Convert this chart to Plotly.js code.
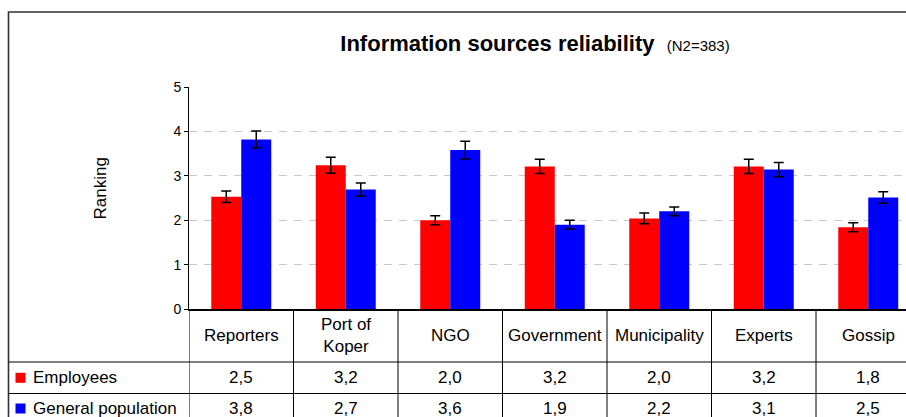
<!DOCTYPE html>
<html>
<head>
<meta charset="utf-8">
<script src="https://cdn.plot.ly/plotly-3.0.1.min.js"></script>
<style>
  html, body { margin: 0; padding: 0; background: #fff; }
  #chart { width: 906px; height: 417px; }
</style>
</head>
<body>
<div id="chart"></div>
<script>
// categories and values
const categories = ['Reporters', 'Port of<br>Koper', 'NGO', 'Government', 'Municipality', 'Experts', 'Gossip'];
const employees = [2.53, 3.24, 2.00, 3.21, 2.04, 3.21, 1.84];
const employeesErr = [0.13, 0.18, 0.10, 0.16, 0.12, 0.16, 0.10];
const generalPop = [3.82, 2.69, 3.58, 1.90, 2.20, 3.14, 2.51];
const generalPopErr = [0.19, 0.15, 0.20, 0.10, 0.10, 0.16, 0.13];
const seriesNames = ['Employees', 'General population'];
const seriesColors = ['#ff0000', '#0000ff'];

const FONT = 'Liberation Sans, Arial, sans-serif';

// plot area: left 189, top 87, width 717, height 222
const L = 189, T = 87, W = 717, H = 222;
const px = p => (p - L) / W;          // pixel -> paper x
const py = p => (T + H - p) / H;      // pixel -> paper y

const fmt = v => v.toFixed(1).replace('.', ',');

const traces = [
    {
        x: categories, y: employees, name: seriesNames[0], type: 'bar',
        marker: { color: seriesColors[0] },
        error_y: { type: 'data', array: employeesErr, visible: true, color: '#000', thickness: 1.5, width: 5 }
    },
    {
        x: categories, y: generalPop, name: seriesNames[1], type: 'bar',
        marker: { color: seriesColors[1] },
        error_y: { type: 'data', array: generalPopErr, visible: true, color: '#000', thickness: 1.5, width: 5 }
    }
];

// data table under the chart
const rowLines = [362, 393.5];
const shapes = [];
// outer chart border
shapes.push({ type: 'rect', xref: 'paper', yref: 'paper', x0: px(8.5), x1: 1.2, y0: py(12), y1: -0.8,
    line: { color: '#333', width: 1.6 } });
rowLines.forEach(r => shapes.push({ type: 'line', xref: 'paper', yref: 'paper',
    x0: px(9), x1: 1.2, y0: py(r), y1: py(r), line: { color: '#000', width: 1 } }));
for (let i = 0; i <= categories.length; i++) {
    shapes.push({ type: 'line', xref: 'x', yref: 'paper', x0: i - 0.5, x1: i - 0.5,
        y0: 0, y1: -0.8, line: { color: '#000', width: 1 } });
}
// legend keys
const rowCenters = [377.8, 408.5];
seriesColors.forEach((c, k) => shapes.push({ type: 'rect', xref: 'paper', yref: 'paper',
    x0: px(15.5), x1: px(25.5), y0: py(rowCenters[k] - 5), y1: py(rowCenters[k] + 5),
    fillcolor: c, line: { width: 0 } }));

const annotations = [];
categories.forEach((c, i) => {
    annotations.push({ x: i, y: py(335.5), xref: 'x', yref: 'paper', text: c, showarrow: false,
        yanchor: 'middle', font: { size: 17, color: '#000', family: FONT } });
    annotations.push({ x: i, y: py(rowCenters[0]), xref: 'x', yref: 'paper', text: fmt(employees[i]),
        showarrow: false, yanchor: 'middle', font: { size: 17, color: '#000', family: FONT } });
    annotations.push({ x: i, y: py(rowCenters[1]), xref: 'x', yref: 'paper', text: fmt(generalPop[i]),
        showarrow: false, yanchor: 'middle', font: { size: 17, color: '#000', family: FONT } });
});
seriesNames.forEach((n, k) => annotations.push({ x: px(31), y: py(rowCenters[k]), xref: 'paper', yref: 'paper',
    text: n, showarrow: false, xanchor: 'left', yanchor: 'middle', font: { size: 17, color: '#000', family: FONT } }));
// y axis title
annotations.push({ x: px(100), y: py(188.5), xref: 'paper', yref: 'paper', text: 'Ranking', textangle: -90,
    showarrow: false, xanchor: 'center', yanchor: 'middle', font: { size: 17, color: '#000', family: FONT } });

const layout = {
    width: 906, height: 417,
    margin: { l: L, r: 906 - L - W, t: T, b: 417 - T - H, pad: 0 },
    paper_bgcolor: '#fff', plot_bgcolor: '#fff',
    showlegend: false,
    barmode: 'group', bargap: 0.426, bargroupgap: 0,
    title: {
        text: '<b>Information sources reliability</b>\u00a0\u00a0<span style="font-size:15px">(N2=383)</span>',
        font: { size: 22, color: '#000', family: FONT },
        x: px(535), xref: 'paper', xanchor: 'center',
        y: 1 - 43 / 417, yref: 'container', yanchor: 'middle'
    },
    xaxis: {
        type: 'category', range: [-0.5, -0.5 + W / 104.5],
        showticklabels: false, ticks: '', showgrid: false, zeroline: false,
        showline: true, linecolor: '#000', linewidth: 1.5
    },
    yaxis: {
        range: [0, 5], dtick: 1, ticks: 'outside', ticklen: 4, tickcolor: '#000', tickwidth: 1,
        showline: true, linecolor: '#000', linewidth: 1, zeroline: false,
        showgrid: true, gridcolor: '#c8c8c8', gridwidth: 1.2, griddash: '8px,7px',
        tickfont: { size: 14, color: '#000', family: FONT }
    },
    shapes: shapes,
    annotations: annotations
};

Plotly.newPlot('chart', traces, layout, { staticPlot: true });
</script>
</body>
</html>
